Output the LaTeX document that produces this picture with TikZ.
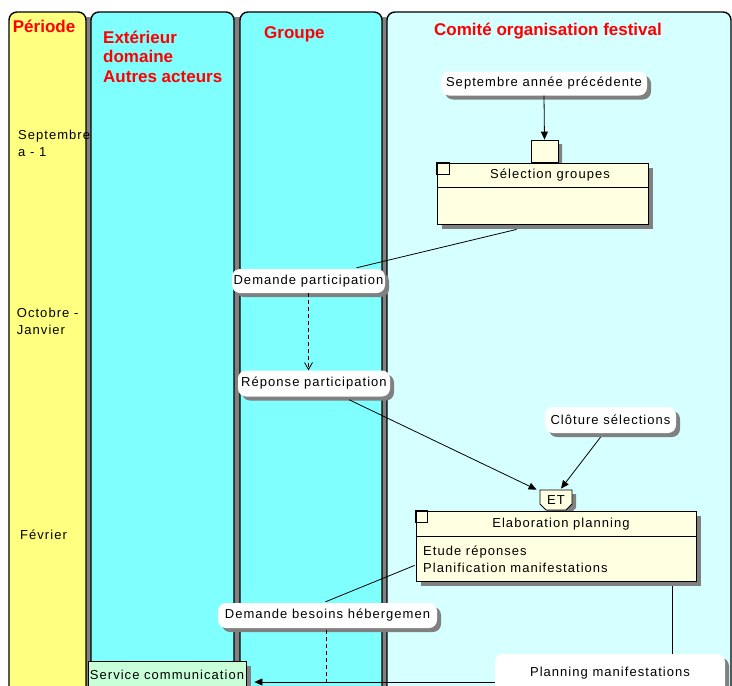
\documentclass[tikz,border=0pt]{standalone}
\usepackage{fontspec}
\setmainfont{Liberation Sans}
\newfontfamily\diagfont[LetterSpace=8]{Liberation Sans}
\usetikzlibrary{arrows.meta,shadows,shapes.misc,calc}

\definecolor{periodyellow}{HTML}{FFFF80}
\definecolor{lanecyan}{HTML}{80FFFF}
\definecolor{lanelight}{HTML}{D6FFFF}
\definecolor{boxcream}{HTML}{FFFFE1}
\definecolor{shadegray}{HTML}{808080}
\definecolor{servgreen}{HTML}{C8FFD8}
\definecolor{titlered}{HTML}{FF0000}

% text of a pill, clipped to the pill outline
\newcommand\pilllabel[3]{%
  \begin{scope}
    \clip[rounded corners=8pt] (#1.north west) rectangle (#1.south east);
    \node[bodytext] (#1-text) at ($(#1.center)+(0,#3)$) {#2};
  \end{scope}}

\begin{document}
\begin{tikzpicture}[x=1pt,y=-1pt,
  lanetitle/.style={font=\bfseries\fontsize{17}{19.5}\selectfont, text=titlered, inner sep=0pt},
  bodytext/.style={font=\diagfont\fontsize{13}{17.5}\selectfont, inner sep=0pt},
  lane/.style={draw=black, line width=1.4pt, rounded corners=8pt},
  lanegap/.style={fill=shadegray},
  pill/.style={fill=white, rounded corners=8pt, inner sep=0pt,
    drop shadow={shadow xshift=4pt, shadow yshift=-4pt, fill=shadegray, opacity=1}},
  activity/.style={draw=black, fill=boxcream, line width=0.8pt, inner sep=0pt,
    drop shadow={shadow xshift=5pt, shadow yshift=-5pt, fill=shadegray, opacity=1}},
  trigger/.style={draw=black, fill=boxcream, line width=0.8pt, inner sep=0pt,
    chamfered rectangle, chamfered rectangle corners={south west,south east},
    chamfered rectangle xsep=2.5pt,
    drop shadow={shadow xshift=4pt, shadow yshift=-4pt, fill=shadegray, opacity=1}},
  flow/.style={line width=0.8pt, -{Triangle[length=8pt,width=7pt]}},
  plainflow/.style={line width=0.8pt},
  dashflow/.style={line width=0.8pt, dash pattern=on 4pt off 3pt},
]
\useasboundingbox (0,0) rectangle (732,686);
\fill[white] (0,0) rectangle (732,686);

% swimlanes
\fill[lanegap] (86,17) rectangle (92,700);
\draw[lane, fill=periodyellow] (9,700) -- (9,12) -- (86,12) -- (86,700);
\fill[lanegap] (234,17) rectangle (240,700);
\draw[lane, fill=lanecyan] (91,700) -- (91,12) -- (234,12) -- (234,700);
\fill[lanegap] (382,17) rectangle (387,700);
\draw[lane, fill=lanecyan] (240,700) -- (240,12) -- (382,12) -- (382,700);
\draw[lane, fill=lanelight] (387,700) -- (387,12) -- (731,12) -- (731,700);

% lane titles
\node[lanetitle, anchor=base west] (pertitle) at (12.7,32) {Période};
\node[lanetitle, anchor=north west, align=left] (exttitle) at (103,30.5) {Extérieur\\domaine\\Autres acteurs};
\node[lanetitle, anchor=base west] (grptitle) at (264,38) {Groupe};
\node[lanetitle, anchor=base west] (comtitle) at (434,35) {Comité organisation festival};

% periods
\node[bodytext, anchor=north west, align=left] (per1) at (18,129.5) {Septembre\\a - 1};
\node[bodytext, anchor=north west, align=left] (per2) at (16.7,307.5) {Octobre -\\Janvier};
\node[bodytext, anchor=base west] (per3) at (20,539) {Février};

% events
\node[pill, minimum width=206pt, minimum height=24pt] (sept) at (544,83.5) {};
\pilllabel{sept}{Septembre année précédente}{0}
\node[pill, minimum width=153pt, minimum height=24pt] (dempart) at (308.5,281) {};
\pilllabel{dempart}{Demande participation}{0}
\node[pill, minimum width=152pt, minimum height=26pt] (reppart) at (314,383.5) {};
\pilllabel{reppart}{Réponse participation}{0}
\node[pill, minimum width=131pt, minimum height=26pt] (cloture) at (610.5,420) {};
\pilllabel{cloture}{Clôture sélections}{0}
\node[pill, minimum width=219pt, minimum height=25pt] (dembes) at (327.5,615.5) {};
\pilllabel{dembes}{Demande besoins hébergemen}{0}
\node[pill, minimum width=230pt, minimum height=46pt] (planning) at (610,677) {};
\pilllabel{planning}{Planning manifestations}{-4}

% synchronisations
\node[trigger, minimum width=27pt, minimum height=22pt] (trig) at (544.5,151) {};
\node[trigger, minimum width=32pt, minimum height=20pt, font=\diagfont\fontsize{13}{15}\selectfont] (et) at (556,500) {ET};

% operations
\node[activity, minimum width=211pt, minimum height=61pt] (sel) at (542.5,193.5) {};
\draw[line width=0.8pt] ($(sel.north west)+(0,25)$) -- ($(sel.north east)+(0,25)$);
\draw[line width=0.8pt] (sel.north west) rectangle ++(13,12);
\node[bodytext] (seltitle) at (550,175.5) {Sélection groupes};

\node[activity, minimum width=280pt, minimum height=70pt] (elab) at (556,546) {};
\draw[line width=0.8pt] ($(elab.north west)+(0,26)$) -- ($(elab.north east)+(0,26)$);
\draw[line width=0.8pt] (elab.north west) rectangle ++(12,12);
\node[bodytext] (elabtitle) at (561,524) {Elaboration planning};
\node[bodytext, anchor=north west, align=left, font=\diagfont\fontsize{13}{17}\selectfont] (elabbody) at (423,545.5) {Etude réponses\\Planification manifestations};

% external actor
\node[activity, fill=servgreen, minimum width=158pt, minimum height=39pt] (service) at (167,680.5) {};
\begin{scope}
  \clip (service.north west) rectangle (service.south east);
  \node[bodytext] (service-text) at (167,675) {Service communication};
\end{scope}

% connectors
\draw[flow] (sept.south) -- (trig.north);
\draw[plainflow] ($(sel.south west)+(80,5)$) -- ($(dempart.north)+(48,-1)$);
\draw[dashflow, -{Straight Barb[length=7pt,width=8pt]}] (dempart.south) -- (dempart.south |- reppart.north);
\draw[flow] ($(reppart.south)+(35,3)$) -- ($(et.north west)+(-3,0)$);
\draw[flow] ($(cloture.south)+(-10,4)$) -- ($(et.north)+(5,-1)$);
\draw[plainflow] ($(elab.south west)+(-1,-16)$) -- ($(dembes.north)+(-2,-1)$);
\coordinate (besend) at ($(dembes.south)+(-1,72)$);
\draw[dashflow] ($(dembes.south)+(-1,2)$) -- (besend);
\coordinate (elabout) at ($(elab.south east)+(-24,5)$);
\draw[plainflow] (elabout) -- (elabout |- planning.north);
\coordinate (planout) at ($(planning.west)+(0,5)$);
\draw[flow] (planout) -- ($(service.east |- planout)+(8,0)$);
\end{tikzpicture}
\end{document}
